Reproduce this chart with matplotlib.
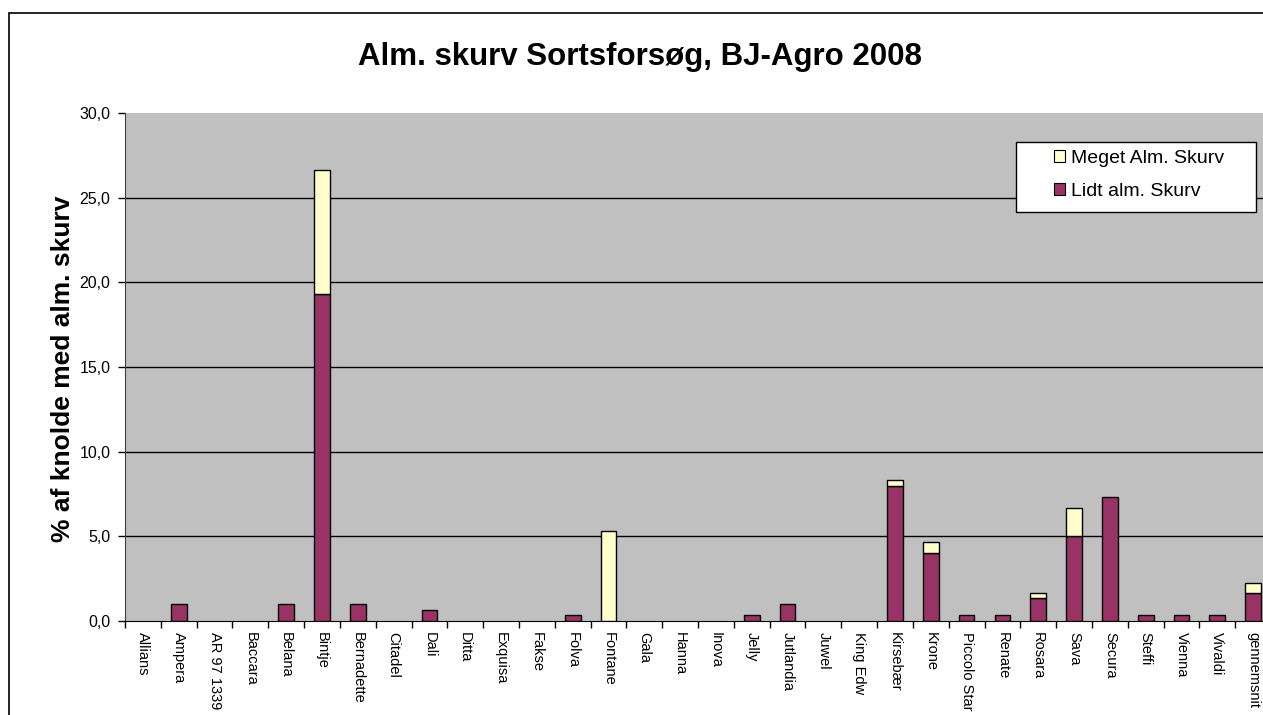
import matplotlib
matplotlib.use('Agg')
import matplotlib.pyplot as plt
from matplotlib.patches import Rectangle, Patch
import numpy as np

plt.rcParams['font.family'] = ['Liberation Sans', 'DejaVu Sans']

sorter = ['Allians', 'Ampera', 'AR 97 1339', 'Baccara', 'Belana', 'Bintje',
          'Bernadette', 'Citadel', 'Dali', 'Ditta', 'Exquisa', 'Fakse', 'Folva',
          'Fontane', 'Gala', 'Hanna', 'Inova', 'Jelly', 'Jutlandia', 'Juwel',
          'King Edw', 'Kirsebær', 'Krone', 'Piccolo Star', 'Renate', 'Rosara',
          'Sava', 'Secura', 'Steffi', 'Vienna', 'Vivaldi', 'gennemsnit']
lidt = [0, 1.0, 0, 0, 1.0, 19.33, 1.0, 0, 0.67, 0, 0, 0, 0.33, 0, 0, 0, 0,
        0.33, 1.0, 0, 0, 8.0, 4.0, 0.33, 0.33, 1.33, 5.0, 7.33, 0.33, 0.33,
        0.33, 1.67]
meget = [0, 0, 0, 0, 0, 7.33, 0, 0, 0, 0, 0, 0, 0, 5.33, 0, 0, 0, 0, 0, 0, 0,
         0.33, 0.67, 0, 0, 0.33, 1.67, 0, 0, 0, 0, 0.55]
yticks = [0, 5, 10, 15, 20, 25, 30]

col_lidt = '#993366'
col_meget = '#FFFFCC'

W, H = 1263, 715
fig = plt.figure(figsize=(W / 100, H / 100), dpi=100)
fig.add_artist(Rectangle((9 / W, -0.1), 1.1, 1.1 - 13 / H, transform=fig.transFigure,
                         fill=False, edgecolor='black', linewidth=1.2))
ax = fig.add_axes([125 / W, 1 - 621 / H, 1146 / W, (621 - 113) / H])
ax.set_facecolor('#C0C0C0')

x = np.arange(len(sorter))
bw = 0.44
b1 = ax.bar(x, lidt, bw, color=col_lidt, edgecolor='black', linewidth=1.0, zorder=3)
b2 = ax.bar(x, meget, bw, bottom=lidt, color=col_meget, edgecolor='black',
            linewidth=1.0, zorder=3)
# tomme søjler skal ikke tegnes
for bars in (b1, b2):
    for p in bars.patches:
        if p.get_height() == 0:
            p.set_visible(False)

for v in yticks[1:-1]:
    ax.axhline(v, color='black', linewidth=1.0, zorder=1)

ax.set_xlim(-0.5, len(sorter) - 0.5)
ax.set_ylim(yticks[0], yticks[-1])
ax.set_yticks(yticks)
ax.set_yticklabels([('%.1f' % v).replace('.', ',') for v in yticks], fontsize=11.5)
ax.tick_params(axis='y', length=5, width=1, direction='out', pad=5.5)

ax.set_xticks(x)
ax.set_xticklabels(sorter, rotation=270, fontsize=10.5, va='top', ha='center')
ax.set_xticks(np.arange(len(sorter) + 1) - 0.5, minor=True)
ax.tick_params(axis='x', which='major', length=0, pad=8)
ax.tick_params(axis='x', which='minor', length=5, width=1, direction='out')

for s in ['top', 'right']:
    ax.spines[s].set_visible(False)
ax.spines['left'].set_color('#404040')
ax.spines['bottom'].set_color('black')

fig.text(63 / W, 1 - 369 / H, '% af knolde med alm. skurv', fontsize=19,
         fontweight='bold', rotation=90, ha='center', va='center')
fig.text(640 / W, 1 - 57 / H, 'Alm. skurv Sortsforsøg, BJ-Agro 2008',
         fontsize=22.5, fontweight='bold', ha='center', va='center')

# legende-boks
ax.add_patch(Rectangle((1016 / W, 1 - 212 / H), 240 / W, 70 / H,
                       transform=fig.transFigure, facecolor='white',
                       edgecolor='black', linewidth=1.0, zorder=5, clip_on=False))
handles = [Patch(facecolor=col_meget, edgecolor='black', linewidth=0.8),
           Patch(facecolor=col_lidt, edgecolor='black', linewidth=0.8)]
leg = ax.legend(handles, ['Meget Alm. Skurv', 'Lidt alm. Skurv'], loc='center left',
                bbox_to_anchor=(1054 / W, 1 - 175 / H), bbox_transform=fig.transFigure,
                fontsize=14, frameon=False, handlelength=0.57, handleheight=0.57,
                handletextpad=0.3, borderpad=0, labelspacing=0.8, borderaxespad=0)
leg.set_zorder(6)

fig.savefig('out.png', dpi=100)
